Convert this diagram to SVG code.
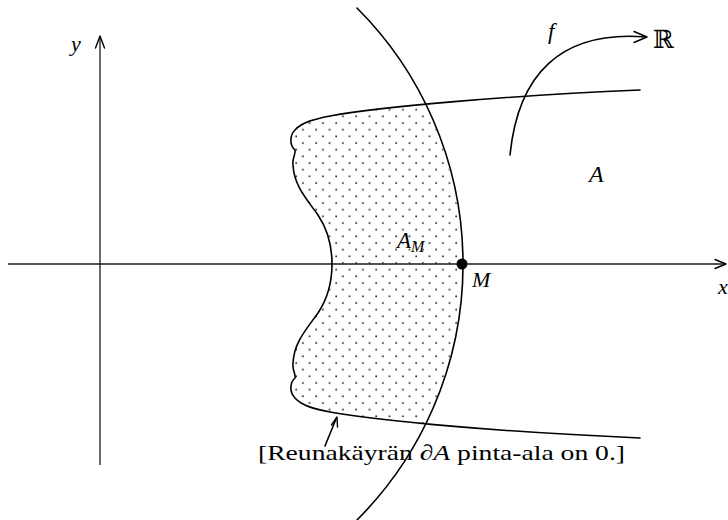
<svg xmlns="http://www.w3.org/2000/svg" width="728" height="520" viewBox="0 0 728 520">
<style>
.curve{fill:none;stroke:#000;stroke-width:1.6;stroke-linejoin:round;stroke-linecap:round}
.axis{fill:none;stroke:#1a1a1a;stroke-width:1.3}
.head{fill:none;stroke:#000;stroke-width:1.4;stroke-linecap:round;stroke-linejoin:round}
.math{font-family:"Liberation Serif","DejaVu Serif",serif;font-style:italic;fill:#000}
.rm{font-family:"Liberation Serif","DejaVu Serif",serif;fill:#000}
</style>
<defs>
<pattern id="dots" patternUnits="userSpaceOnUse" x="0" y="0" width="13.33" height="13.33">
<circle cx="3" cy="3" r="0.95" fill="#222"/>
<circle cx="9.67" cy="9.67" r="0.95" fill="#222"/>
</pattern>
<clipPath id="clipCircle"><circle cx="100" cy="264" r="362"/></clipPath>
<clipPath id="clipRegion"><path d="M640,90 C500,96 380,107 330,116 C315,119 302,122 295,130 C289,136 290,146 295,150 C296,154 292,158 293,165 C294,185 305,197 318,215 C328,230 332,245 332,264 C332,283 328,298 318,313 C305,331 294,343 293,363 C292,370 296,374 295,378 C290,382 289,392 295,398 C302,406 315,409 330,412 C380,421 500,432 640,438 Z"/></clipPath>
</defs>

<g id="region-fill" clip-path="url(#clipCircle)">
<rect x="280" y="80" width="200" height="370" fill="url(#dots)" clip-path="url(#clipRegion)"/>
</g>

<g id="connectors">
<g id="x-axis">
<line class="axis" x1="8" y1="264" x2="725" y2="264"/>
<path class="head" d="M715,259.5 L726,264 L715,268.5"/>
</g>
<g id="y-axis">
<line class="axis" x1="100" y1="465" x2="100" y2="37"/>
<path class="head" d="M95.5,48 L100,36 L104.5,48"/>
</g>
<g id="map-f">
<path class="curve" d="M510,155 C518,75 560,30 646,37"/>
<path class="head" d="M634,31.5 L647,37 L634,42.5"/>
</g>
<g id="pointer">
<line class="curve" x1="325" y1="446" x2="336" y2="419"/>
<path class="head" d="M331.5,425 L337,417 L337.5,427"/>
</g>
</g>

<g id="boundary">
<path class="curve" d="M640,90 C500,96 380,107 330,116 C315,119 302,122 295,130 C289,136 290,146 295,150 C296,154 292,158 293,165 C294,185 305,197 318,215 C328,230 332,245 332,264 C332,283 328,298 318,313 C305,331 294,343 293,363 C292,370 296,374 295,378 C290,382 289,392 295,398 C302,406 315,409 330,412 C380,421 500,432 640,438"/>
</g>

<g id="circle-arc">
<path class="curve" d="M357,8 A362,362 0 0 1 357,520"/>
</g>

<g id="point-M">
<circle cx="462" cy="264" r="5.5" fill="#000"/>
<text class="math" x="472" y="287" font-size="22">M</text>
</g>

<g id="labels">
<text class="math" x="71" y="51" font-size="22">y</text>
<text class="math" x="718" y="294" font-size="22">x</text>
<text class="math" x="548" y="39" font-size="23">f</text>
<text x="653" y="48" font-size="25" font-family="DejaVu Serif, serif" fill="#000">ℝ</text>
<text class="math" x="589" y="182" font-size="24">A</text>
<text class="math" x="397" y="248" font-size="23">A<tspan font-size="16" dy="4">M</tspan></text>
<text class="rm" x="258" y="460" font-size="22" textLength="367" lengthAdjust="spacingAndGlyphs">[Reunakäyrän <tspan class="math">∂A</tspan> pinta-ala on 0.]</text>
</g>
</svg>
